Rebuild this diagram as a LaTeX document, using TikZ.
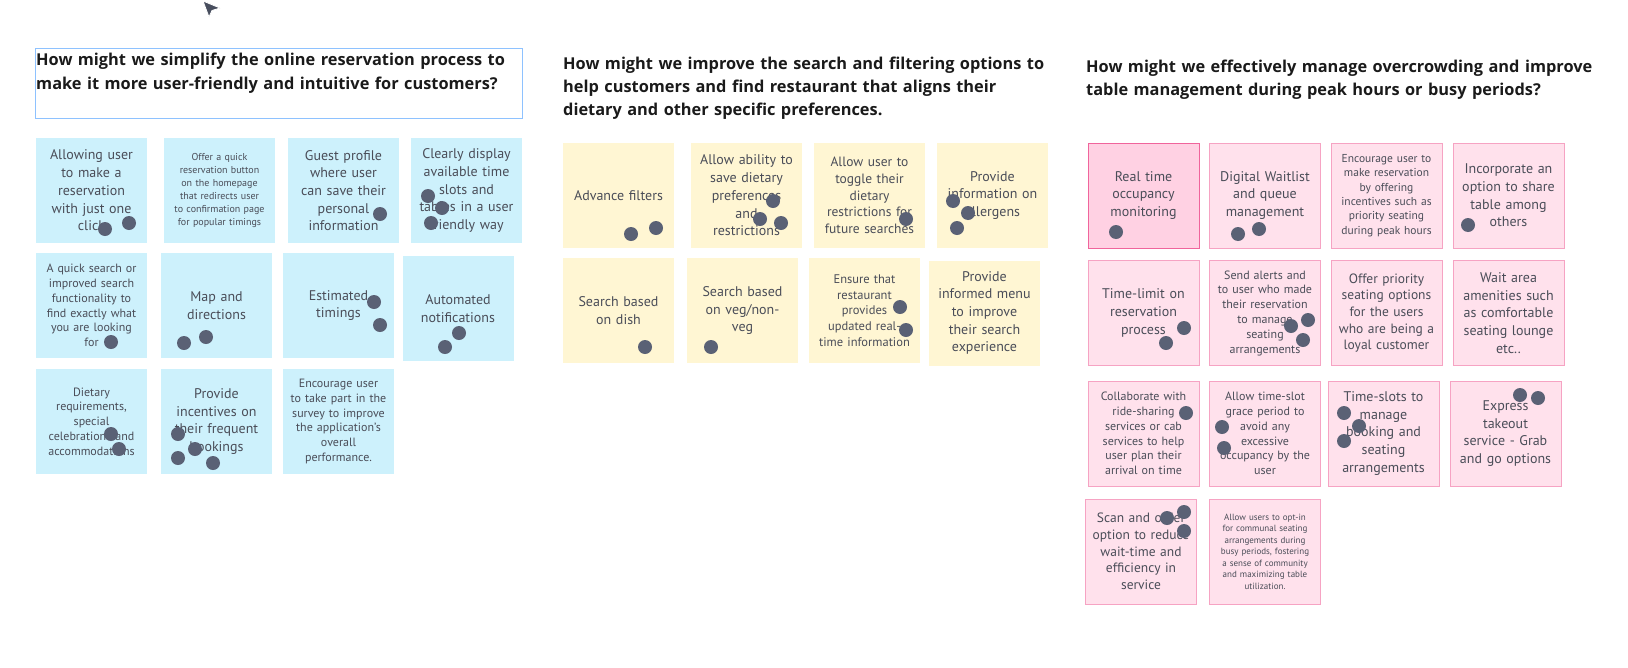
\documentclass[tikz,border=0pt]{standalone}
\usepackage{fontspec}
\setmainfont{PT Sans}
\newfontfamily\qfont{Open Sans}

\definecolor{bluefill}{HTML}{CDF1FC}
\definecolor{yellowfill}{HTML}{FFF6D3}
\definecolor{pinkfill}{HTML}{FFE1EC}
\definecolor{pinkline}{HTML}{F6A3C3}
\definecolor{hotfill}{HTML}{FFD1E3}
\definecolor{hotline}{HTML}{F0649C}
\definecolor{notetext}{HTML}{4A4D58}
\definecolor{titletext}{HTML}{1A1A1A}
\definecolor{selblue}{HTML}{8EC2FF}
\definecolor{dotgrey}{HTML}{5A6175}

\begin{document}
\begin{tikzpicture}[x=1pt, y=-1pt,
  note/.style={minimum width=111pt, minimum height=105pt, inner sep=0pt,
    text width=108pt, align=center, text=notetext},
  bluenote/.style={note, fill=bluefill},
  yellownote/.style={note, fill=yellowfill},
  pinknote/.style={note, fill=pinkfill, draw=pinkline, line width=0.8pt},
  hotnote/.style={note, fill=hotfill, draw=hotline, line width=1pt},
  txtL/.style={font=\fontsize{14}{17.7}\selectfont},
  txtLM/.style={font=\fontsize{13.5}{16.7}\selectfont},
  txtM/.style={font=\fontsize{12}{14.8}\selectfont},
  txtS/.style={font=\fontsize{10}{12.9}\selectfont},
  txtXS/.style={font=\fontsize{9}{11.5}\selectfont},
  question/.style={anchor=north west, align=left, inner sep=0pt, text=titletext,
    text width=540pt, font=\qfont\bfseries\fontsize{16.35}{23.3}\selectfont},
  vote/.style={fill=dotgrey}]

  % =======================================================
  % PARAMETERS
  % =======================================================
  \def\DotR{7} % radius of a vote dot (px)

  % canvas (1px = 1pt, y downwards)
  \fill[white] (0,0) rectangle (1628,667);
  \useasboundingbox (0,0) rectangle (1628,667);

  % mouse cursor
  \filldraw[fill=dotgrey!80!black, draw=white, line width=0.8pt, line join=round]
    (203,1) -- (220,8) -- (212,10.5) -- (209,17) -- cycle;

  % =======================================================
  % 1. Online reservation process (blue)
  % =======================================================
  \draw[selblue, line width=1pt] (35,48) rectangle (522,118);
  \node[question] (q1) at (36,53) {How might we simplify the online reservation process to\\make it more user-friendly and intuitive for customers?};

  \node[bluenote, txtL] (b1) at (91.5,190.5) {Allowing user\\to make a\\reservation\\with just one\\click};
  \node[bluenote, txtS] (b2) at (219.5,190.5) {Offer a quick\\reservation button\\on the homepage\\that redirects user\\to confirmation page\\for popular timings};
  \node[bluenote, txtL] (b3) at (343.5,190.5) {Guest profile\\where user\\can save their\\personal\\information};
  \node[bluenote, txtL] (b4) at (466.5,190.5) {Clearly display\\available time\\slots and\\tables in a user\\friendly way};

  \node[bluenote, txtM] (b5) at (91.5,305.5) {A quick search or\\improved search\\functionality to\\find exactly what\\you are looking\\for};
  \node[bluenote, txtL] (b6) at (216.5,305.5) {Map and\\directions};
  \node[bluenote, txtL] (b7) at (338.5,305.5) {Estimated\\timings};
  \node[bluenote, txtL] (b8) at (458,308.5) {Automated\\notifications};

  \node[bluenote, txtM] (b9) at (91.5,421.5) {Dietary\\requirements,\\special\\celebrations and\\accommodations};
  \node[bluenote, txtL] (b10) at (216.5,421.5) {Provide\\incentives on\\their frequent\\bookings};
  \node[bluenote, txtM] (b11) at (338.5,421.5) {Encourage user\\to take part in the\\survey to improve\\the application's\\overall\\performance.};

  \foreach \x/\y in {105/229, 129/223, 380/214, 428/196, 442/208, 431/223,
                     111/342, 184/343, 206/337, 374/302, 380/325, 459/333, 445/347,
                     111/434, 119/449, 178/434, 195/449, 178/458, 213/463}
    \fill[vote] (\x,\y) circle (\DotR);

  % =======================================================
  % 2. Search and filtering options (yellow)
  % =======================================================
  \node[question] (q2) at (563,56.5) {How might we improve the search and filtering options to\\help customers and find restaurant that aligns their\\dietary and other specific preferences.};

  \node[yellownote, txtL] (y1) at (618.5,195.5) {Advance filters};
  \node[yellownote, txtL] (y2) at (746.5,195.5) {Allow ability to\\save dietary\\preferences\\and\\restrictions};
  \node[yellownote, txtLM] (y3) at (869.5,195.5) {Allow user to\\toggle their\\dietary\\restrictions for\\future searches};
  \node[yellownote, txtL] (y4) at (992.5,195.5) {Provide\\information on\\allergens};

  \node[yellownote, txtL] (y5) at (618.5,310.5) {Search based\\on dish};
  \node[yellownote, txtL] (y6) at (742.5,310.5) {Search based\\on veg/non-\\veg};
  \node[yellownote, font=\fontsize{12.5}{15.7}\selectfont] (y7) at (864.5,310.5) {Ensure that\\restaurant\\provides\\updated real-\\time information};
  \node[yellownote, txtL] (y8) at (984.5,313) {Provide\\informed menu\\to improve\\their search\\experience};

  \foreach \x/\y in {631/234, 656/228, 773/201, 760/219, 781/223, 906/219,
                     953/201, 968/213, 957/228, 645/347, 711/347, 900/307, 906/330}
    \fill[vote] (\x,\y) circle (\DotR);

  % =======================================================
  % 3. Overcrowding and table management (pink)
  % =======================================================
  \node[question] (q3) at (1086,59.5) {How might we effectively manage overcrowding and improve\\table management during peak hours or busy periods?};

  \node[hotnote, txtL] (p1) at (1143.5,195.5) {Real time\\occupancy\\monitoring};
  \node[pinknote, txtL] (p2) at (1265,195.5) {Digital Waitlist\\and queue\\management};
  \node[pinknote, font=\fontsize{11.5}{14.4}\selectfont] (p3) at (1386.5,195.5) {Encourage user to\\make reservation\\by offering\\incentives such as\\priority seating\\during peak hours};
  \node[pinknote, txtL] (p4) at (1508.5,195.5) {Incorporate an\\option to share\\table among\\others};

  \node[pinknote, txtL] (p5) at (1143.5,313) {Time-limit on\\reservation\\process};
  \node[pinknote, txtM] (p6) at (1265,313) {Send alerts and\\to user who made\\their reservation\\to manage\\seating\\arrangements};
  \node[pinknote, txtLM] (p7) at (1386.5,313) {Offer priority\\seating options\\for the users\\who are being a\\loyal customer};
  \node[pinknote, txtL] (p8) at (1508.5,313) {Wait area\\amenities such\\as comfortable\\seating lounge\\etc..};

  \node[pinknote, txtM] (p9) at (1143.5,433.5) {Collaborate with\\ride-sharing\\services or cab\\services to help\\user plan their\\arrival on time};
  \node[pinknote, txtM] (p10) at (1265,433.5) {Allow time-slot\\grace period to\\avoid any\\excessive\\occupancy by the\\user};
  \node[pinknote, txtL] (p11) at (1383.5,433.5) {Time-slots to\\manage\\booking and\\seating\\arrangements};
  \node[pinknote, txtL] (p12) at (1505.5,433.5) {Express\\takeout\\service - Grab\\and go options};

  \node[pinknote, txtLM] (p13) at (1141,551.5) {Scan and order\\option to reduce\\wait-time and\\efficiency in\\service};
  \node[pinknote, txtXS] (p14) at (1265,551.5) {Allow users to opt-in\\for communal seating\\arrangements during\\busy periods, fostering\\a sense of community\\and maximizing table\\utilization.};

  \foreach \x/\y in {1116/232, 1238/234, 1259/229, 1468/225, 1184/328, 1166/343,
                     1308/320, 1291/326, 1303/340, 1186/413, 1222/427, 1224/448,
                     1344/413, 1359/426, 1344/441, 1520/395, 1538/398,
                     1167/518, 1184/512, 1184/531}
    \fill[vote] (\x,\y) circle (\DotR);

\end{tikzpicture}
\end{document}
